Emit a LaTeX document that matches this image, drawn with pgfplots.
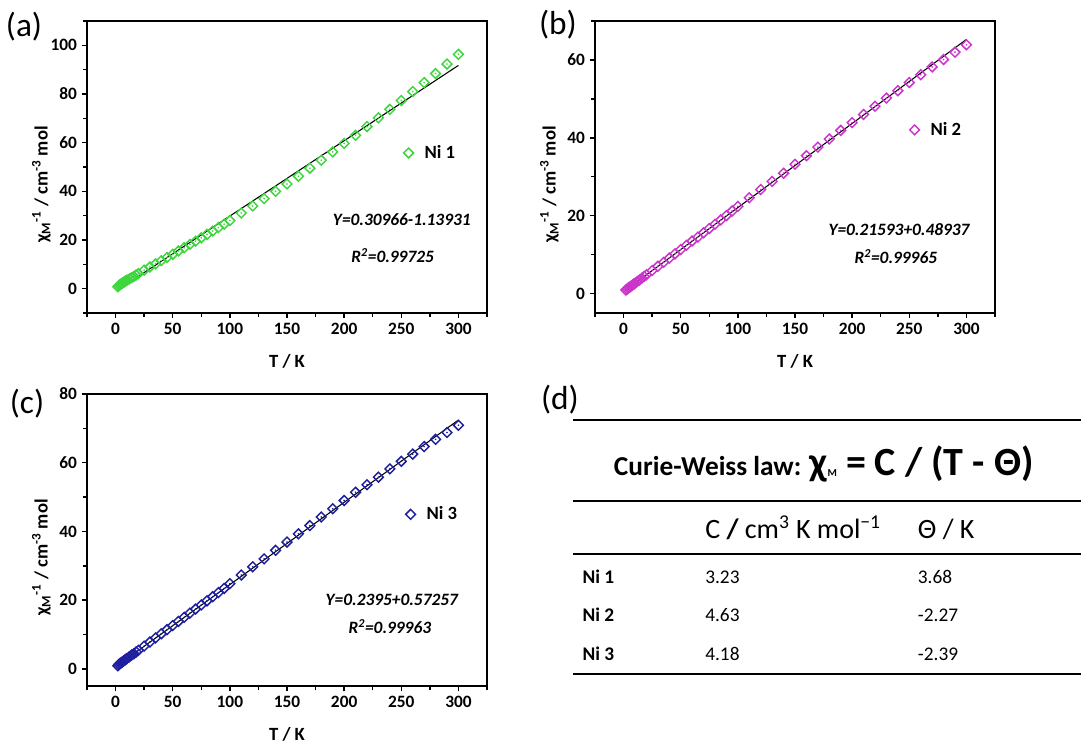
\documentclass[border=0pt]{standalone}
\usepackage{fontspec}
\setmainfont{Carlito}
\usepackage{pgfplots}
\pgfplotsset{compat=1.18}
\usepackage{pgfplotstable}

\definecolor{nigreen}{HTML}{3DD63D}
\definecolor{nipink}{HTML}{CC33CC}
\definecolor{niblue}{HTML}{1E1EA0}

\newcommand{\fs}[1]{\fontsize{#1}{#1}\selectfont}

% T (K) and 1/chi_M
\pgfplotstableread{
T    a     b     c
2    0.8   0.9   0.9
3    1.3   1.1   1.3
4    1.7   1.35  1.6
5    2.0   1.6   1.8
6    2.3   1.8   2.0
7    2.6   2.0   2.3
8    2.9   2.2   2.5
9    3.2   2.45  2.8
10   3.5   2.65  3.0
12   4.0   3.1   3.5
14   4.5   3.5   4.0
16   5.0   3.95  4.4
18   5.6   4.4   4.9
20   6.2   4.8   5.4
25   7.6   5.9   6.6
30   8.9   7.0   7.8
35   10.2  8.0   9.0
40   11.5  9.1   10.2
45   12.8  10.2  11.4
50   14.1  11.3  12.6
55   15.5  12.4  13.8
60   16.8  13.5  15.0
65   18.2  14.5  16.2
70   19.5  15.6  17.4
75   20.9  16.7  18.6
80   22.3  17.8  19.8
85   23.7  18.9  21.0
90   25.1  20.0  22.2
95   26.5  21.2  23.4
100  28.0  22.4  24.8
110  31.1  24.6  27.3
120  34.0  26.7  29.7
130  37.0  28.8  32.0
140  40.0  30.9  34.5
150  43.0  33.2  36.9
160  46.2  35.4  39.3
170  49.5  37.6  41.7
180  52.8  39.7  44.2
190  56.2  41.9  46.6
200  59.7  43.9  49.0
210  63.0  46.0  51.4
220  66.6  48.1  53.6
230  70.2  50.2  55.8
240  73.7  52.1  58.2
250  77.3  54.2  60.4
260  81.0  56.2  62.5
270  84.7  58.2  64.7
280  88.4  60.1  66.8
290  92.3  62.0  68.8
300  96.3  63.9  70.9
}\chidata

\pgfplotsset{
  cw/.style={
    width=300pt, height=219pt, scale only axis,
    xmin=-25, xmax=325,
    xtick={0,50,...,300}, minor xtick={-25,25,...,325},
    tick align=outside, xtick pos=bottom, ytick pos=left,
    major tick length=4pt, minor tick length=3pt,
    axis line style={line width=1.4pt},
    tick style={line width=1.1pt, black},
    ticklabel style={font=\bfseries\fs{13}},
    /pgf/number format/assume math mode=true,
    xlabel={T / K},
    xlabel style={font=\bfseries\fs{14}, at={(axis description cs:0.5,-0.165)}, anchor=center},
    ylabel={χ\textsubscript{M}\textsuperscript{-1} / cm\textsuperscript{-3} mol},
    ylabel style={font=\bfseries\fs{14}, at={(axis description cs:-0.114,0.44)}, anchor=center},
    legend style={draw=none, fill=none, font=\bfseries\fs{14}, anchor=west,
      inner sep=0pt},
    legend cell align=left,
    legend image code/.code={
      \draw[##1] plot coordinates {(0pt,0pt)};
      \path[draw=none, fill=none] (-4pt,-4pt) rectangle (10pt,4pt);},
  },
  pts/.style={only marks, mark=square, mark size=2.6pt,
    mark options={rotate=45, line width=1.1pt}, color=#1},
  dots/.style={only marks, mark=*, mark size=0.4pt, color=#1, forget plot},
  fit/.style={black, line width=0.8pt, forget plot},
}
\tikzset{eq/.style={font=\bfseries\itshape\fs{13}}}

\begin{document}
\begin{tikzpicture}
\path[use as bounding box] (0pt,0pt) rectangle (810.75pt,558pt);

% (a)
\begin{axis}[cw, at={(65.25pt,323.25pt)}, anchor=south west,
  ymin=-10, ymax=110, ytick={0,20,...,100}, minor ytick={-10,10,...,110},
  legend style={at={(0.79,0.548)}}]
\addplot[pts=nigreen] table[x=T, y=a] {\chidata};
\addlegendentry{Ni 1}
\addplot[dots=nigreen] table[x=T, y=a] {\chidata};
\addplot[fit] coordinates {(2,-0.52) (300,91.76)};
\node[eq] at (rel axis cs:0.787,0.319) {Y=0.30966-1.13931};
\node[eq] at (rel axis cs:0.764,0.196) {R\textsuperscript{2}=0.99725};
\end{axis}

% (b)
\begin{axis}[cw, at={(446.25pt,323.25pt)}, anchor=south west,
  ymin=-5, ymax=70, ytick={0,20,...,60}, minor ytick={10,30,...,70},
  legend style={at={(0.785,0.627)}}]
\addplot[pts=nipink] table[x=T, y=b] {\chidata};
\addlegendentry{Ni 2}
\addplot[dots=nipink] table[x=T, y=b] {\chidata};
\addplot[fit] coordinates {(2,0.92) (300,65.27)};
\node[eq] at (rel axis cs:0.76,0.286) {Y=0.21593+0.48937};
\node[eq] at (rel axis cs:0.752,0.193) {R\textsuperscript{2}=0.99965};
\end{axis}

% (c)
\begin{axis}[cw, at={(65.25pt,43.5pt)}, anchor=south west,
  ymin=-5, ymax=80, ytick={0,20,...,80}, minor ytick={10,30,...,70},
  legend style={at={(0.795,0.588)}}]
\addplot[pts=niblue] table[x=T, y=c] {\chidata};
\addlegendentry{Ni 3}
\addplot[dots=niblue] table[x=T, y=c] {\chidata};
\addplot[fit] coordinates {(2,1.05) (300,72.42)};
\node[eq] at (rel axis cs:0.762,0.294) {Y=0.2395+0.57257};
\node[eq] at (rel axis cs:0.757,0.203) {R\textsuperscript{2}=0.99963};
\end{axis}

% panel letters
\node[font=\fs{25}] at (18pt,537.75pt) {(a)};
\node[font=\fs{25}] at (418.5pt,539.25pt) {(b)};
\node[font=\fs{25}] at (20.25pt,255pt) {(c)};
\node[font=\fs{25}] at (420pt,258pt) {(d)};

% (d) Curie-Weiss table
\foreach \yy in {243,182.5,142.3,52.5}
  \draw[line width=1.5pt] (429.75pt,\yy pt) -- (810.75pt,\yy pt);
\node[anchor=base, inner sep=0pt] at (617.8pt,201.75pt)
  {\bfseries\fs{20.5}Curie-Weiss law: {\fs{30}χ\raisebox{-1pt}{\fs{8}M} = C / (T - Θ)}};
\node[anchor=base west, inner sep=0pt, font=\fs{21}] at (528.75pt,154.25pt)
  {C {\bfseries /} cm\textsuperscript{3} K mol\textsuperscript{−1}};
\node[anchor=base west, inner sep=0pt, font=\fs{21}] at (688.25pt,154.25pt) {Θ / K};
\foreach \nm/\cc/\th/\yy in {Ni 1/3.23/3.68/120.5, Ni 2/4.63/-2.27/91.75, Ni 3/4.18/-2.39/63}{
  \node[anchor=base west, inner sep=0pt, font=\bfseries\fs{14.5}] at (436.75pt,\yy pt) {\nm};
  \node[anchor=base west, inner sep=0pt, font=\fs{14.5}] at (528.75pt,\yy pt) {\cc};
  \node[anchor=base west, inner sep=0pt, font=\fs{14.5}] at (688.25pt,\yy pt) {\th};
}
\end{tikzpicture}
\end{document}
